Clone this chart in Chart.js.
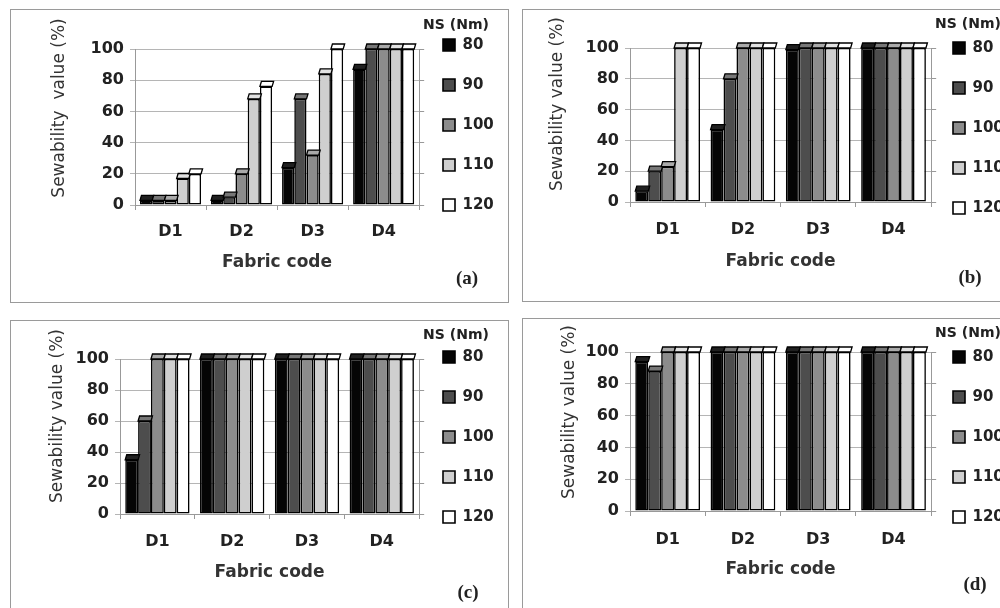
<!DOCTYPE html>
<html>
<head>
<meta charset="utf-8">
<script src="https://cdn.jsdelivr.net/npm/chart.js@4.4.0/dist/chart.umd.min.js"></script>
<style>
html, body { margin: 0; padding: 0; background: #fff; width: 1000px; height: 608px; overflow: hidden; position: relative; }
.panel { position: absolute; border: 1px solid #9a9a9a; box-sizing: border-box; overflow: hidden; }
canvas { display: block; }
</style>
</head>
<body>
<div class="panel" style="left:10px;top:9px;width:499px;height:294px"><canvas id="ca" width="497" height="292"></canvas></div>
<div class="panel" style="left:522px;top:9px;width:499px;height:293px"><canvas id="cb" width="497" height="291"></canvas></div>
<div class="panel" style="left:10px;top:320px;width:499px;height:300px"><canvas id="cc" width="497" height="298"></canvas></div>
<div class="panel" style="left:522px;top:318px;width:499px;height:300px"><canvas id="cd" width="497" height="298"></canvas></div>
<script>
// data
const categories = ['D1', 'D2', 'D3', 'D4'];
const needleSizes = ['80', '90', '100', '110', '120'];
const yTicks = [0, 20, 40, 60, 80, 100];

// rows = needle size 80..120, columns = D1..D4
const panelA = [
  [3, 3, 24, 87],
  [3, 5, 68, 100],
  [3, 20, 32, 100],
  [17, 68, 84, 100],
  [20, 76, 100, 100]
];
const panelB = [
  [7, 47, 99, 100],
  [20, 80, 100, 100],
  [23, 100, 100, 100],
  [100, 100, 100, 100],
  [100, 100, 100, 100]
];
const panelC = [
  [35, 100, 100, 100],
  [60, 100, 100, 100],
  [100, 100, 100, 100],
  [100, 100, 100, 100],
  [100, 100, 100, 100]
];
const panelD = [
  [94, 100, 100, 100],
  [88, 100, 100, 100],
  [100, 100, 100, 100],
  [100, 100, 100, 100],
  [100, 100, 100, 100]
];

const fills = ['#050505', '#4d4d4d', '#8c8c8c', '#cfcfcf', '#ffffff'];
const caps = ['#202020', '#777777', '#aaaaaa', '#e2e2e2', '#ffffff'];

// draws the little 3d tops, the y title and the (a) tag
const decor = {
  id: 'decor',
  beforeLayout(chart, args, o) {
    chart.legend.afterFit = function () { this.width = o.legendW; };
  },
  afterLayout(chart, args, o) {
    const L = chart.legend;
    L.left = o.boxX - 25;
    L.width = 2 * (o.titleX + 33 - L.left);
    L.right = L.left + L.width;
    L.top = 0;
    L.bottom = chart.height;
    L.height = chart.height;
  },
  afterDatasetsDraw(chart, args, o) {
    const ctx = chart.ctx;
    ctx.save();
    chart.data.datasets.forEach((ds, i) => {
      chart.getDatasetMeta(i).data.forEach(bar => {
        const l = bar.x - bar.width / 2, r = bar.x + bar.width / 2, y = bar.y;
        ctx.beginPath();
        ctx.moveTo(l, y);
        ctx.lineTo(l + 1.5, y - 5);
        ctx.lineTo(r + 1.5, y - 5);
        ctx.lineTo(r, y);
        ctx.closePath();
        ctx.fillStyle = caps[i];
        ctx.fill();
        ctx.lineWidth = 1.3;
        ctx.strokeStyle = '#000';
        ctx.stroke();
      });
    });
    ctx.restore();
  },
  afterDraw(chart, args, o) {
    const ctx = chart.ctx;
    ctx.save();
    ctx.fillStyle = '#333';
    ctx.textAlign = 'center';
    ctx.textBaseline = 'middle';
    ctx.translate(o.ytitle[0], o.ytitle[1]);
    ctx.rotate(-Math.PI / 2);
    ctx.font = '17px "DejaVu Sans"';
    ctx.fillText(o.ytext, 0, 0);
    ctx.restore();
    ctx.save();
    ctx.fillStyle = '#222';
    ctx.textAlign = 'center';
    ctx.textBaseline = 'middle';
    ctx.font = 'bold 19px "Liberation Serif"';
    ctx.fillText(o.tag, o.tagXY[0], o.tagXY[1]);
    ctx.restore();
  }
};

function makeChart(id, values, p) {
  const canvas = document.getElementById(id);
  const W = canvas.width, H = canvas.height;
  const datasets = needleSizes.map((ns, i) => ({
    label: ns,
    data: values[i],
    backgroundColor: fills[i],
    borderColor: '#000',
    borderWidth: 1.6,
    borderSkipped: false,
    categoryPercentage: 0.86,
    barPercentage: 1.0,
    clip: false
  }));
  return new Chart(canvas, {
    type: 'bar',
    data: { labels: categories, datasets: datasets },
    plugins: [decor],
    options: {
      responsive: false,
      animation: false,
      layout: { padding: { top: p.area[1], left: 0, right: 0, bottom: 0 } },
      scales: {
        x: {
          afterFit: s => { s.height = H - p.area[3]; },
          grid: { offset: true, drawOnChartArea: false, drawTicks: true, tickLength: 5, color: '#999' },
          border: { color: '#999' },
          ticks: { color: '#222', font: { family: 'DejaVu Sans', size: 16, weight: 'bold' }, padding: p.xlabelY - p.area[3] - 5 - 9.6 },
          title: {
            display: true, text: 'Fabric code', color: '#333',
            font: { family: 'DejaVu Sans', size: 17, weight: 'bold' },
            padding: { top: 0, bottom: H - p.xtitleY - 10.2 }
          }
        },
        y: {
          min: 0, max: 100,
          afterFit: s => { s.width = p.area[0]; },
          afterBuildTicks: s => { s.ticks = yTicks.map(v => ({ value: v })); },
          grid: { color: '#b5b5b5', tickLength: 5 },
          border: { color: '#999' },
          ticks: { color: '#222', font: { family: 'DejaVu Sans', size: 16, weight: 'bold' }, padding: 6 }
        },
        y2: {
          position: 'right', min: 0, max: 100,
          afterFit: s => { s.width = 6; },
          afterBuildTicks: s => { s.ticks = yTicks.map(v => ({ value: v })); },
          grid: { drawOnChartArea: false, tickLength: 5, color: '#999' },
          border: { color: '#999' },
          ticks: { display: false }
        }
      },
      plugins: {
        tooltip: { enabled: false },
        legend: {
          position: 'right',
          align: 'start',
          title: {
            display: true, text: 'NS (Nm)', color: '#222', position: 'center',
            font: { family: 'DejaVu Sans', size: 14, weight: 'bold' },
            padding: { top: p.titleY - 7, bottom: (p.firstY - 32.5) - 16.8 - (p.titleY - 7) }
          },
          labels: {
            boxWidth: 12, boxHeight: 12, padding: 25, color: '#222',
            font: { family: 'DejaVu Sans', size: 15, weight: 'bold' }
          }
        },
        decor: {
          legendW: W - p.area[2] - 6,
          boxX: p.boxX, titleX: p.titleX,
          ytitle: p.ytitle, ytext: p.ytext,
          tag: p.tag, tagXY: p.tagXY
        }
      }
    }
  });
}

makeChart('ca', panelA, {
  area: [124, 39, 414, 195], boxX: 432, firstY: 35, titleX: 412, titleY: 15,
  ytitle: [49, 98], ytext: 'Sewability  value (%)', xlabelY: 222, xtitleY: 253, tag: '(a)', tagXY: [456, 269]
});
makeChart('cb', panelB, {
  area: [107, 38, 410, 192], boxX: 430, firstY: 38, titleX: 412, titleY: 14,
  ytitle: [35, 94], ytext: 'Sewability value (%)', xlabelY: 220, xtitleY: 252, tag: '(b)', tagXY: [447, 268]
});
makeChart('cc', panelC, {
  area: [109, 38, 416, 193], boxX: 432, firstY: 36, titleX: 412, titleY: 14,
  ytitle: [47, 95], ytext: 'Sewability value (%)', xlabelY: 221, xtitleY: 252, tag: '(c)', tagXY: [457, 272]
});
makeChart('cd', panelD, {
  area: [107, 33, 414, 192], boxX: 430, firstY: 38, titleX: 412, titleY: 14,
  ytitle: [47, 93], ytext: 'Sewability value (%)', xlabelY: 221, xtitleY: 251, tag: '(d)', tagXY: [452, 266]
});
</script>
</body>
</html>
